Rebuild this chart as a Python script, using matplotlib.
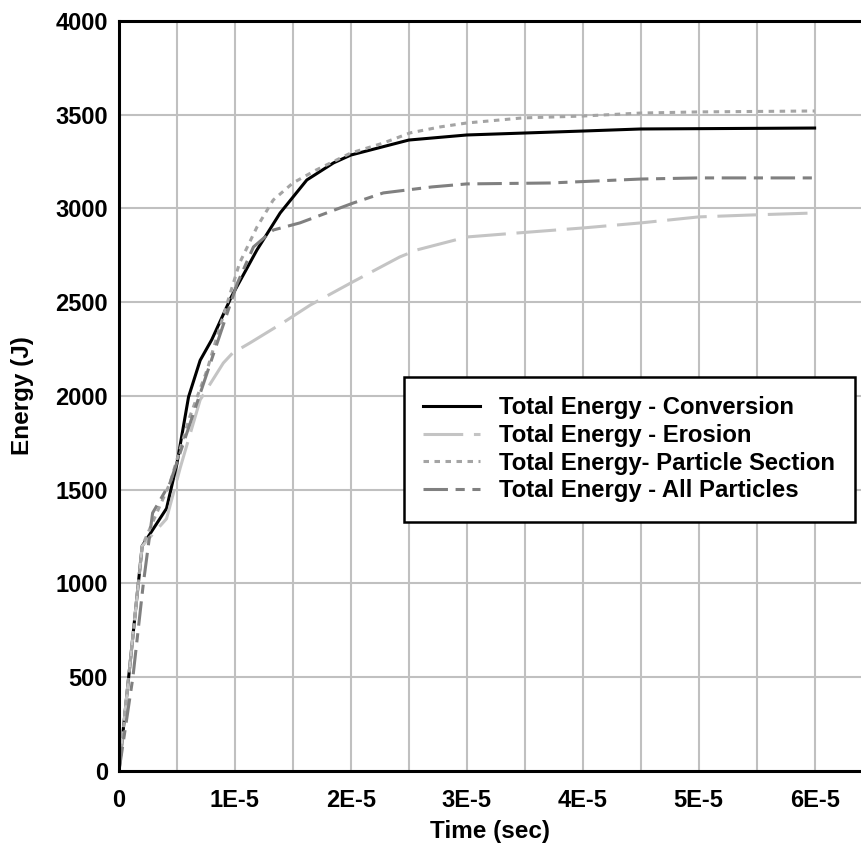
import numpy as np
import matplotlib.pyplot as plt

plt.rcParams['font.family'] = ['Liberation Sans', 'DejaVu Sans']
plt.rcParams['font.weight'] = 'bold'

# Total Energy - Conversion
t_conv = [0, 2e-6, 4.1e-6, 5e-6, 6e-6, 7e-6, 8e-6, 9.7e-6, 1.19e-5, 1.39e-5,
          1.62e-5, 1.85e-5, 2.0e-5, 2.5e-5, 3.0e-5, 4.0e-5, 4.5e-5, 6.0e-5]
e_conv = [0, 1200, 1400, 1640, 1995, 2190, 2300, 2530, 2779, 2976,
          3152, 3243, 3285, 3365, 3392, 3413, 3424, 3429]

# Total Energy - Erosion
t_eros = [0, 2e-6, 4.1e-6, 5.3e-6, 7e-6, 9e-6, 9.8e-6, 1.13e-5, 1.41e-5, 1.65e-5,
          2.0e-5, 2.42e-5, 2.57e-5, 3.0e-5, 3.43e-5, 4.0e-5, 4.5e-5, 5.0e-5, 5.44e-5, 6.0e-5]
e_eros = [0, 1200, 1345, 1621, 1979, 2176, 2229, 2283, 2389, 2485,
          2603, 2741, 2779, 2848, 2869, 2896, 2923, 2955, 2965, 2976]

# Total Energy - Particle Section
t_sect = [0, 2e-6, 4.4e-6, 6.1e-6, 7.6e-6, 8.7e-6, 1.04e-5, 1.19e-5, 1.33e-5, 1.5e-5,
          1.7e-5, 2.0e-5, 2.28e-5, 2.51e-5, 2.77e-5, 3.0e-5, 3.48e-5, 4.0e-5, 4.5e-5, 5.0e-5, 6.0e-5]
e_sect = [0, 1200, 1536, 1888, 2139, 2368, 2709, 2901, 3045, 3136,
          3205, 3296, 3349, 3403, 3435, 3456, 3483, 3493, 3509, 3515, 3520]

# Total Energy - All Particles
t_all = [0, 1.2e-6, 2.1e-6, 2.9e-6, 4.4e-6, 1.02e-5, 1.16e-5, 1.33e-5, 1.56e-5, 1.79e-5,
         2.02e-5, 2.28e-5, 2.7e-5, 3.0e-5, 3.72e-5, 4.5e-5, 5.0e-5, 6.0e-5]
e_all = [0, 500, 1000, 1376, 1536, 2600, 2795, 2885, 2923, 2976,
         3029, 3083, 3115, 3131, 3136, 3157, 3163, 3163]

x_ticks = [0, 1e-5, 2e-5, 3e-5, 4e-5, 5e-5, 6e-5]
x_labels = ["0", "1E-5", "2E-5", "3E-5", "4E-5", "5E-5", "6E-5"]

fig = plt.figure(figsize=(8.61, 8.46), dpi=100)
ax = fig.add_axes([0.1382, 0.0887, 0.8618, 0.8865])

lw = 2.2
ax.plot(t_conv, e_conv, color="black", lw=lw, label="Total Energy - Conversion")
ax.plot(t_eros, e_eros, color="#c4c4c4", lw=lw, dashes=(13, 3.5),
        label="Total Energy - Erosion")
ax.plot(t_sect, e_sect, color="#a4a4a4", lw=lw, dashes=(1.8, 1.8),
        label="Total Energy- Particle Section")
ax.plot(t_all, e_all, color="#808080", lw=lw, dashes=(8, 2.5, 3, 2.5),
        label="Total Energy - All Particles")

ax.set_xlim(0, 6.4e-5)
ax.set_ylim(0, 4000)
ax.set_xticks(x_ticks)
ax.set_xticklabels(x_labels)
ax.set_xticks(np.arange(0.5e-5, 6.5e-5, 1e-5), minor=True)
ax.set_yticks(np.arange(0, 4001, 500))
ax.grid(True, which="both", color="#c0c0c0", lw=1.5)
ax.set_axisbelow(True)
ax.tick_params(which="both", length=0, labelsize=17)
ax.tick_params(axis="x", pad=13)
ax.tick_params(axis="y", pad=8)

for s in ["left", "bottom", "top"]:
    ax.spines[s].set_linewidth(2.2)
    ax.spines[s].set_color("black")
ax.spines["right"].set_visible(False)

ax.set_xlabel("Time (sec)", fontsize=17.5, fontweight="bold", labelpad=6)
ax.set_ylabel("Energy (J)", fontsize=17.5, fontweight="bold", labelpad=15)

leg = ax.legend(loc="upper left", bbox_to_anchor=(0.384, 0.5253), borderaxespad=0,
                prop={"size": 17.2, "weight": "bold"}, frameon=True, fancybox=False,
                edgecolor="black", handlelength=2.4, borderpad=0.8,
                labelspacing=0.2, handletextpad=0.8, framealpha=1)
leg.get_frame().set_linewidth(1.8)

fig.savefig("out.png", dpi=100)
